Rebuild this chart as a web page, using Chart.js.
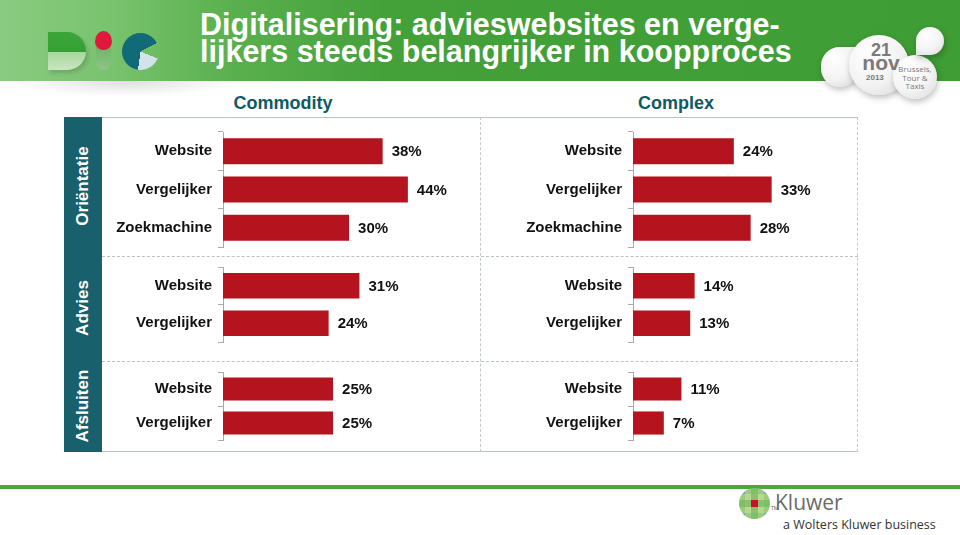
<!DOCTYPE html>
<html><head><meta charset="utf-8">
<script src="https://cdn.jsdelivr.net/npm/chart.js@4.4.0/dist/chart.umd.min.js"></script>
<style>
html,body{margin:0;padding:0;background:#fff;}
body{width:960px;height:535px;position:relative;overflow:hidden;font-family:"Liberation Sans",Arial,sans-serif;}
.abs{position:absolute;}
#header{left:0;top:0;width:960px;height:81px;background:linear-gradient(to right,#8acb81 0%,#78c26d 12%,#5ab04e 24%,#44a13a 40%,#3e9d34 100%);}
#hshadow{left:10px;top:81px;width:230px;height:16px;background:radial-gradient(ellipse at 50% 0%,rgba(0,0,0,0.13),rgba(0,0,0,0) 70%);}
#title{left:200px;top:11px;color:#fff;font-weight:bold;font-size:30.5px;line-height:27px;white-space:nowrap;}
.colhead{top:91px;width:200px;text-align:center;color:#0e5a66;font-weight:bold;font-size:18px;line-height:24px;}
#box{left:64px;top:117px;width:794px;height:335px;border-top:1px solid #b9c2c2;border-bottom:1px solid #b9c2c2;border-right:1px dashed #c4cccc;box-sizing:border-box;}
#strip{left:64px;top:117px;width:38px;height:335px;background:#17606c;}
.hsep{left:102px;width:756px;height:0;border-top:1px dashed #b9c2c2;}
#vsep{left:480px;top:117px;width:0;height:335px;border-left:1px dashed #c0c8c8;}
.side{width:140px;height:24px;color:#fff;font-weight:bold;font-size:17px;line-height:24px;text-align:center;transform:rotate(-90deg);}
#greenline{left:0;top:485px;width:960px;height:4px;background:#4aa542;}
/* BIC logo */
#bicD{left:48px;top:32px;width:38px;height:38px;border-radius:0 19px 19px 0;background:linear-gradient(to bottom,#3ba53a 0,#34a033 52%,#a7d59c 52%,#c9e6c1 100%);box-shadow:2px 3px 4px rgba(0,0,0,0.15);}
#bicI1{left:95px;top:31px;width:17px;height:19px;border-radius:50% 50% 50% 50% / 55% 55% 45% 45%;background:#e0183c;}
#bicI2{left:96px;top:46px;width:15px;height:24px;border-radius:0 0 8px 8px;background:linear-gradient(to bottom,#6fb366,#8cc783);z-index:0;}
#bicC{left:122px;top:33px;width:37px;height:37px;border-radius:50%;background:conic-gradient(#106a77 0deg 62deg,transparent 62deg 112deg,#d2e4ea 112deg 188deg,#106a77 188deg 360deg);}
/* right logo */
.wshape{background:radial-gradient(circle at 35% 30%,#ffffff 0%,#f3f3f3 55%,#d8d8d8 100%);box-shadow:1px 3px 6px rgba(0,0,0,0.25);}
#leafL{left:821px;top:47px;width:37px;height:40px;border-radius:19px 0 19px 19px;}
#circBig{left:849px;top:35px;width:60px;height:60px;border-radius:50%;}
#circSm{left:893px;top:55px;width:44px;height:44px;border-radius:50%;}
#leafR{left:916px;top:27px;width:28px;height:28px;border-radius:14px 14px 14px 0;}
.lt{color:#7a7a7a;font-weight:bold;white-space:nowrap;text-align:center;}
/* Kluwer */
#kmark{left:739px;top:488px;width:31px;height:31px;border-radius:50%;overflow:hidden;display:grid;grid-template-columns:repeat(5,1fr);grid-template-rows:repeat(5,1fr);}
#kmark div{width:100%;height:100%;}
</style></head>
<body>
<div id="header" class="abs"></div>
<div id="hshadow" class="abs"></div>
<div id="title" class="abs">Digitalisering: advieswebsites en verge-<br>lijkers steeds belangrijker in koopproces</div>

<div id="bicD" class="abs"></div>
<div id="bicI2" class="abs"></div>
<div id="bicI1" class="abs"></div>
<div id="bicC" class="abs"></div>

<div id="leafL" class="abs wshape"></div>
<div id="circBig" class="abs wshape"></div>
<div id="circSm" class="abs wshape"></div>
<div id="leafR" class="abs wshape"></div>
<div class="abs lt" style="left:861px;top:42px;width:40px;font-size:18px;line-height:17px;">21</div>
<div class="abs lt" style="left:859px;top:54px;width:44px;font-size:21px;line-height:18px;">nov</div>
<div class="abs lt" style="left:866px;top:73px;width:22px;font-size:8px;line-height:9px;text-align:left;">2013</div>
<div class="abs lt" style="left:894px;top:65px;width:42px;font-size:8px;line-height:8.7px;font-weight:normal;font-family:'Open Sans',sans-serif;">Brussels,<br>Tour &amp;<br>Taxis</div>

<div class="abs colhead" style="left:183px;">Commodity</div>
<div class="abs colhead" style="left:576px;">Complex</div>

<div id="box" class="abs"></div>
<div id="strip" class="abs"></div>
<div class="abs hsep" style="top:256px;"></div>
<div class="abs hsep" style="top:361px;"></div>
<div id="vsep" class="abs"></div>
<div class="abs side" style="left:13px;top:174px;">Oriëntatie</div>
<div class="abs side" style="left:13px;top:296px;">Advies</div>
<div class="abs side" style="left:13px;top:394px;">Afsluiten</div>

<div id="greenline" class="abs"></div>
<div id="kmark" class="abs"></div>
<div class="abs" style="left:771px;top:505px;font-size:5px;color:#555;font-family:'Open Sans',sans-serif;">TM</div>
<div class="abs" style="left:775px;top:489px;font-size:21px;line-height:26px;color:#6a6a6a;font-family:'Open Sans',sans-serif;">Kluwer</div>
<div class="abs" style="left:783px;top:517px;font-size:12.5px;line-height:16px;color:#333;font-family:'Open Sans',sans-serif;white-space:nowrap;">a Wolters Kluwer business</div>

<script>
// ---- data ----
const categoriesOrientatie = ["Website", "Vergelijker", "Zoekmachine"];
const categoriesAdvies = ["Website", "Vergelijker"];
const categoriesAfsluiten = ["Website", "Vergelijker"];
const orientatieCommodity = [38, 44, 30];
const orientatieComplex = [24, 33, 28];
const adviesCommodity = [31, 24];
const adviesComplex = [14, 13];
const afsluitenCommodity = [25, 25];
const afsluitenComplex = [11, 7];

// ---- layout ----
const rowTop = [117, 256, 361];
const rowH = [139, 105, 91];
const padTop = [15, 11, 11];
const padBottom = [9, 19, 12];
const colLeft = [102, 480];
const axisW = [121, 153];
const canvasW = [400, 410];
const plotW = 250;
const axisMax = [59.5, 56.8, 56.8];

const panels = [
  {row: 0, col: 0, labels: categoriesOrientatie, values: orientatieCommodity},
  {row: 0, col: 1, labels: categoriesOrientatie, values: orientatieComplex},
  {row: 1, col: 0, labels: categoriesAdvies, values: adviesCommodity},
  {row: 1, col: 1, labels: categoriesAdvies, values: adviesComplex},
  {row: 2, col: 0, labels: categoriesAfsluiten, values: afsluitenCommodity},
  {row: 2, col: 1, labels: categoriesAfsluiten, values: afsluitenComplex}
];

const FONT = "'Liberation Sans', Arial, sans-serif";
const valueLabels = {
  id: 'valueLabels',
  afterDatasetsDraw(chart) {
    const ctx = chart.ctx;
    const meta = chart.getDatasetMeta(0);
    const vals = chart.data.datasets[0].data;
    ctx.save();
    ctx.font = "bold 15px " + FONT;
    ctx.fillStyle = '#111';
    ctx.textAlign = 'left';
    ctx.textBaseline = 'middle';
    meta.data.forEach((bar, i) => {
      ctx.fillText(vals[i] + '%', bar.x + 9, bar.y + 1);
    });
    ctx.restore();
  }
};

panels.forEach(p => {
  const c = document.createElement('canvas');
  const w = canvasW[p.col], h = rowH[p.row];
  c.width = w; c.height = h;
  c.style.cssText = `position:absolute;left:${colLeft[p.col]}px;top:${rowTop[p.row]}px;width:${w}px;height:${h}px;`;
  document.body.appendChild(c);
  const aw = axisW[p.col];
  new Chart(c, {
    type: 'bar',
    data: {
      labels: p.labels,
      datasets: [{data: p.values, backgroundColor: '#b5131e', borderWidth: 0, categoryPercentage: 0.68, barPercentage: 1}]
    },
    options: {
      indexAxis: 'y',
      responsive: false,
      animation: false,
      layout: {padding: {top: padTop[p.row], bottom: padBottom[p.row], left: 0, right: w - aw - plotW}},
      plugins: {legend: {display: false}, tooltip: {enabled: false}},
      scales: {
        x: {display: false, min: 0, max: axisMax[p.row]},
        y: {
          grid: {display: true, drawOnChartArea: false, drawTicks: true, tickLength: 5, color: '#a9a9a9', offset: true},
          border: {display: true, color: '#a9a9a9'},
          ticks: {color: '#111', font: {family: FONT, weight: 'bold', size: 15}, padding: 6},
          afterFit(s) { s.width = aw; s.paddingTop = 0; s.paddingBottom = 0; }
        }
      }
    },
    plugins: [valueLabels]
  });
});

// Kluwer mark mosaic
const km = document.getElementById('kmark');
const kcols = ['#6fa8d8','#9ccb7c','#7fbf6a','#9ccb7c','#6fa8d8',
               '#9ccb7c','#b7d98f','#8bc06e','#b7d98f','#9ccb7c',
               '#7fbf6a','#8bc06e','#c8102e','#8bc06e','#7fbf6a',
               '#9ccb7c','#b7d98f','#8bc06e','#b7d98f','#9ccb7c',
               '#6fa8d8','#9ccb7c','#7fbf6a','#9ccb7c','#6fa8d8'];
kcols.forEach(col => { const d = document.createElement('div'); d.style.background = col; km.appendChild(d); });
</script>
</body></html>
